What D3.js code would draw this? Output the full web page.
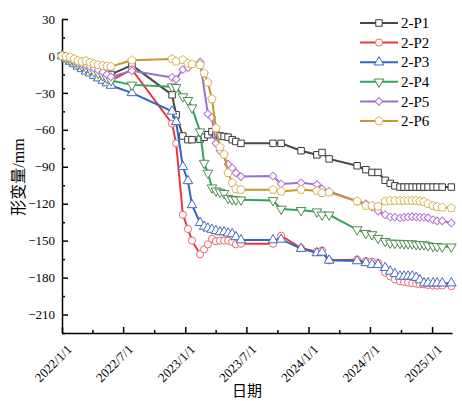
<!DOCTYPE html>
<html lang="zh">
<head>
<meta charset="UTF-8">
<title>形变量</title>
<style>
  body { margin: 0; background: #fff; }
  svg { display: block; font-family: "Liberation Serif", "Times New Roman", "Noto Sans CJK SC", serif; }
  .axis path, .axis line { stroke: #000; stroke-width: 1.5px; }
  .axis text { font-family: "Liberation Serif", "Times New Roman", serif; font-size: 13px; fill: #000; }
</style>
</head>
<body>
<svg width="462" height="401"></svg>
<script src="https://d3js.org/d3.v7.min.js"></script>
<script>
const dates = [
  "2022-01-01","2022-01-13","2022-01-25","2022-02-06","2022-02-17","2022-03-01","2022-03-13","2022-03-25","2022-04-06","2022-04-18","2022-05-02","2022-05-14","2022-05-26",
  "2022-07-27",
  "2022-11-23","2022-12-05","2022-12-25","2023-01-09","2023-01-21","2023-02-14","2023-02-26","2023-03-09","2023-03-21","2023-04-02","2023-04-14","2023-04-26","2023-05-08","2023-05-20","2023-05-31","2023-06-15",
  "2023-09-18","2023-10-12","2023-12-10","2024-01-26","2024-02-10","2024-03-02",
  "2024-05-24","2024-06-19","2024-07-07","2024-07-25","2024-08-15","2024-08-30","2024-09-13","2024-09-28","2024-10-10","2024-10-22","2024-11-03","2024-11-15","2024-11-26","2024-12-08","2024-12-20","2025-01-04","2025-01-16","2025-01-31","2025-02-27"
];

const p1 = [0, -1, -2, -3.5, -5, -6, -7, -8, -9, -10, -11.5, -13, -15,
  -7.5,
  -31.6, -47.8, -65, -68, -68, -67.6, -66, -64, -61.5, -64, -65, -65.4, -66, -68, -69.5, -71,
  -71, -71, -77, -80.3, -78.4, -83.6,
  -89.2, -92.4, -94.6, -94.6, -101, -103.5, -105.5, -106.5, -106.5, -106.5, -106.5, -106.5, -106.5, -106.5, -106.5, -106.5, -106.5, -106.5, -106.5];
const p2 = [0, -2, -3.5, -5, -7, -8.5, -10, -12, -13.5, -15, -17, -18.5, -20,
  -11,
  -55, -71, -129, -140.5, -150, -161, -157, -153, -148.5, -150.5, -150, -150, -150, -151, -153, -152.5,
  -152.5, -146, -156, -159, -158, -166,
  -165.5, -166.5, -167, -168, -176, -179, -181.5, -183, -183.5, -184, -184.5, -185, -185.5, -185.5, -186, -186.5, -186.5, -186.5, -187];
const p3 = [0, -2.5, -4.5, -6.5, -8.5, -10.5, -12.5, -14, -16, -18, -20, -22, -24,
  -30,
  -45, -53.5, -90, -101.5, -121, -135.5, -138.5, -140, -141, -142, -143, -143, -144, -144.5, -147, -149.5,
  -149.5, -149, -156.5, -160, -159.5, -166,
  -166.5, -168, -169.5, -169.5, -172, -175, -177, -179, -179, -179, -179, -180, -182, -184.5, -184.5, -184.5, -184.5, -184.5, -184.5];
const p4 = [0, -2, -3.5, -5, -6.5, -8, -9.5, -11, -12.5, -14, -16, -18, -20,
  -23.5,
  -25, -25.5, -33, -36, -42, -61.5, -87, -95, -107, -109.5, -110.5, -111.5, -115.5, -116.5, -116.8, -116.8,
  -117.3, -124.3, -125.4, -126.5, -129, -129,
  -141, -144, -145, -148, -150.5, -151.8, -152, -152, -152.4, -152.4, -152.4, -153.2, -153.2, -153.2, -154, -154.6, -154.6, -155, -155];
const p5 = [0, -1, -2.5, -4, -5.5, -6.5, -7.5, -9, -10, -11.5, -13, -15, -17,
  -12,
  -17.5, -19, -11, -9.5, null, -5, null, -47, -50, -71, -77, null, -88, -91, -95, -98,
  -97.5, -104, -103, -104.5, -108, -110,
  -118, -120, -122.7, -126, -129, -130.8, -131, -131.6, -131, -130.8, -130.5, -130.8, -131, -131, -131.5, -133, -134, -134, -135.7];
const p6 = [0, -0.5, -1, -2.4, -3.8, -4.6, -4, -5.4, -6.5, -7.3, -7.8, -8.3, -8.6,
  -3.5,
  -2.4, -4.5, -3.2, -6, -6.7, -7.3, -14, -21.5, -34.9, -58.6, -74, -80, -95, -103, -108, -108.6,
  -108.6, -110, -108.6, -109.5, -111.3, -110.8,
  -118, -121.6, -121.6, -122.2, -118, -117.5, -117.5, -117.5, -117.5, -117.5, -117.5, -117.5, -118, -118.5, -120, -121.6, -122.5, -123, -123.5];

const names = ["2-P1", "2-P2", "2-P3", "2-P4", "2-P5", "2-P6"];
const lineColors = ["#474747", "#e8383d", "#3166c4", "#2ea660", "#9b6fcc", "#c8962e"];
const markColors = ["#3a3a3a", "#e86a6a", "#4a66c0", "#4f8a4f", "#b46fd2", "#d8b658"];
const yTicks = [30, 0, -30, -60, -90, -120, -150, -180, -210];

const parse = d3.timeParse("%Y-%m-%d");
const fmt = d3.timeFormat("%Y/%-m/%-d");
const margin = { left: 62, right: 452, top: 19, bottom: 333 };

const svg = d3.select("svg");

const x = d3.scaleTime()
  .domain([parse("2022-01-01"), parse("2025-03-01")])
  .range([margin.left, margin.right]);
const y = d3.scaleLinear()
  .domain([-225, 30])
  .range([margin.bottom, margin.top]);

// minor ticks first so major axis draws on top
const minorY = d3.range(15, -226, -30);
svg.append("g").attr("class", "axis")
  .attr("transform", `translate(${margin.left},0)`)
  .call(d3.axisLeft(y).tickValues(minorY).tickSize(-3).tickFormat(""))
  .select(".domain").remove();
const minorX = d3.timeMonth.range(parse("2022-01-01"), parse("2025-03-01"))
  .filter(d => d.getMonth() === 3 || d.getMonth() === 9);
svg.append("g").attr("class", "axis")
  .attr("transform", `translate(0,${margin.bottom})`)
  .call(d3.axisBottom(x).tickValues(minorX).tickSize(-3).tickFormat(""))
  .select(".domain").remove();

svg.append("g").attr("class", "axis")
  .attr("transform", `translate(${margin.left},0)`)
  .call(d3.axisLeft(y).tickValues(yTicks).tickSize(-6).tickSizeOuter(0).tickPadding(7));

const majorX = d3.timeMonth.every(6).range(parse("2022-01-01"), parse("2025-03-01"));
const xg = svg.append("g").attr("class", "axis")
  .attr("transform", `translate(0,${margin.bottom})`)
  .call(d3.axisBottom(x).tickValues(majorX).tickSize(-6).tickSizeOuter(0).tickFormat(fmt));
xg.selectAll("text")
  .attr("x", 0).attr("y", 0).attr("dy", "0.35em")
  .attr("text-anchor", "end")
  .attr("transform", "translate(7,14) rotate(-45)");

// axis titles
svg.append("text")
  .attr("transform", "translate(24,177) rotate(-90)")
  .attr("text-anchor", "middle")
  .style("font-size", "16px")
  .text("形变量/mm");
svg.append("text")
  .attr("x", 247).attr("y", 396)
  .attr("text-anchor", "middle")
  .style("font-family", "'Noto Sans CJK SC', sans-serif")
  .style("font-size", "15px")
  .text("日期");

// marker shapes
const pentagon = (r) => {
  const pts = d3.range(5).map(k => {
    const a = -Math.PI / 2 + k * 2 * Math.PI / 5;
    return [r * Math.cos(a), r * Math.sin(a)];
  });
  return "M" + pts.map(p => p.join(",")).join("L") + "Z";
};
const markers = [
  { path: d3.symbol(d3.symbolSquare, 42)(), rot: 0 },
  { path: d3.symbol(d3.symbolCircle, 40)(), rot: 0 },
  { path: d3.symbol(d3.symbolTriangle, 40)(), rot: 0 },
  { path: d3.symbol(d3.symbolTriangle, 40)(), rot: 180 },
  { path: d3.symbol(d3.symbolSquare, 30)(), rot: 45 },
  { path: pentagon(4.4), rot: 0 }
];

const series = [p1, p2, p3, p4, p5, p6].map((vals, i) => ({
  name: names[i],
  points: vals.map((v, j) => ({ date: parse(dates[j]), v: v })).filter(d => d.v !== null)
}));

const line = d3.line().x(d => x(d.date)).y(d => y(d.v));

series.forEach((s, i) => {
  const g = svg.append("g");
  g.append("path")
    .attr("d", line(s.points))
    .attr("fill", "none")
    .attr("stroke", lineColors[i])
    .attr("stroke-width", 2);
  g.selectAll("path.mk")
    .data(s.points)
    .enter()
    .append("path")
    .attr("class", "mk")
    .attr("d", markers[i].path)
    .attr("transform", d => `translate(${x(d.date)},${y(d.v)}) rotate(${markers[i].rot})`)
    .attr("fill", "#fff")
    .attr("stroke", markColors[i])
    .attr("stroke-width", 1);
});

// legend
const legend = svg.append("g");
names.forEach((n, i) => {
  const ly = 23 + i * 19.6;
  legend.append("line")
    .attr("x1", 360).attr("x2", 398).attr("y1", ly).attr("y2", ly)
    .attr("stroke", lineColors[i]).attr("stroke-width", 2);
  legend.append("path")
    .attr("d", markers[i].path)
    .attr("transform", `translate(379,${ly}) rotate(${markers[i].rot})`)
    .attr("fill", "#fff")
    .attr("stroke", markColors[i]);
  legend.append("text")
    .attr("x", 401).attr("y", ly)
    .attr("dy", "0.35em")
    .style("font-size", "15px")
    .text(n);
});
</script>
</body>
</html>
